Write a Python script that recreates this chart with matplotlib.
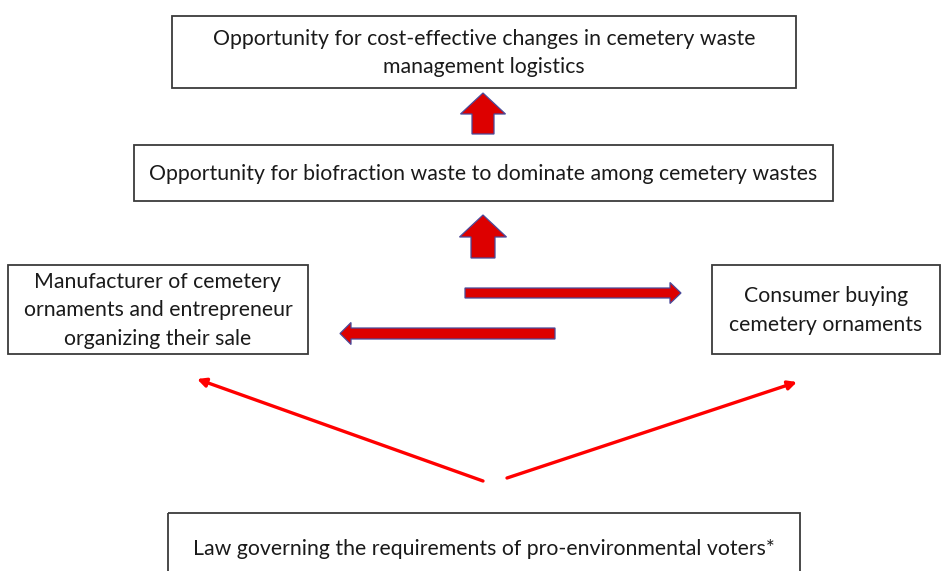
import matplotlib
matplotlib.use('Agg')
import matplotlib.pyplot as plt
from matplotlib.patches import Rectangle, FancyArrow

plt.rcParams['font.family'] = ['Lato', 'DejaVu Sans']

# box texts
top_text = 'Opportunity for cost-effective changes in cemetery waste\nmanagement logistics'
mid_text = 'Opportunity for biofraction waste to dominate among cemetery wastes'
left_text = 'Manufacturer of cemetery\nornaments and entrepreneur\norganizing their sale'
right_text = 'Consumer buying\ncemetery ornaments'
bottom_text = 'Law governing the requirements of pro-environmental voters*'

box_texts = [top_text, mid_text, left_text, right_text, bottom_text]

# layout in pixel coords (x0, y0, x1, y1), y down
box_pos = [(172, 16, 796, 88),
           (134, 145, 833, 201),
           (8, 265, 308, 354),
           (712, 265, 940, 354),
           (168, 513, 800, 580)]

fig = plt.figure(figsize=(9.41, 5.71), dpi=100)
ax = fig.add_axes([0, 0, 1, 1])
ax.set_xlim(0, 941)
ax.set_ylim(571, 0)
ax.axis('off')

for txt, (x0, y0, x1, y1) in zip(box_texts, box_pos):
    ax.add_patch(Rectangle((x0, y0), x1 - x0, y1 - y0, fill=False,
                           edgecolor='#3a3a3a', linewidth=1.3))
    yc = (y0 + y1) / 2 if y1 < 571 else 548
    ax.text((x0 + x1) / 2, yc + 1, txt, ha='center', va='center',
            fontsize=15.3, color='#1a1a1a', linespacing=1.55)

red = '#dd0000'
edge = '#4a4a9a'

# block arrows (x, y, dx, dy, width, head width, head length)
block_arrows = [(483, 134, 0, -41, 22, 45, 21),
                (483, 258, 0, -43, 24, 47, 22),
                (465, 293, 216, 0, 10, 21, 11),
                (555, 333.5, -215, 0, 11, 22, 11)]
for x, y, dx, dy, w, hw, hl in block_arrows:
    ax.add_patch(FancyArrow(x, y, dx, dy, width=w, head_width=hw, head_length=hl,
                            length_includes_head=True, facecolor=red,
                            edgecolor=edge, linewidth=0.9))

# thin arrows
thin = [((483, 481), (197, 379)), ((507, 478), (797, 382))]
for start, end in thin:
    ax.annotate('', xy=end, xytext=start,
                arrowprops=dict(arrowstyle='-|>', color='#ff0000', lw=2.4,
                                mutation_scale=13, shrinkA=0, shrinkB=0))

fig.savefig('out.png', dpi=100)
